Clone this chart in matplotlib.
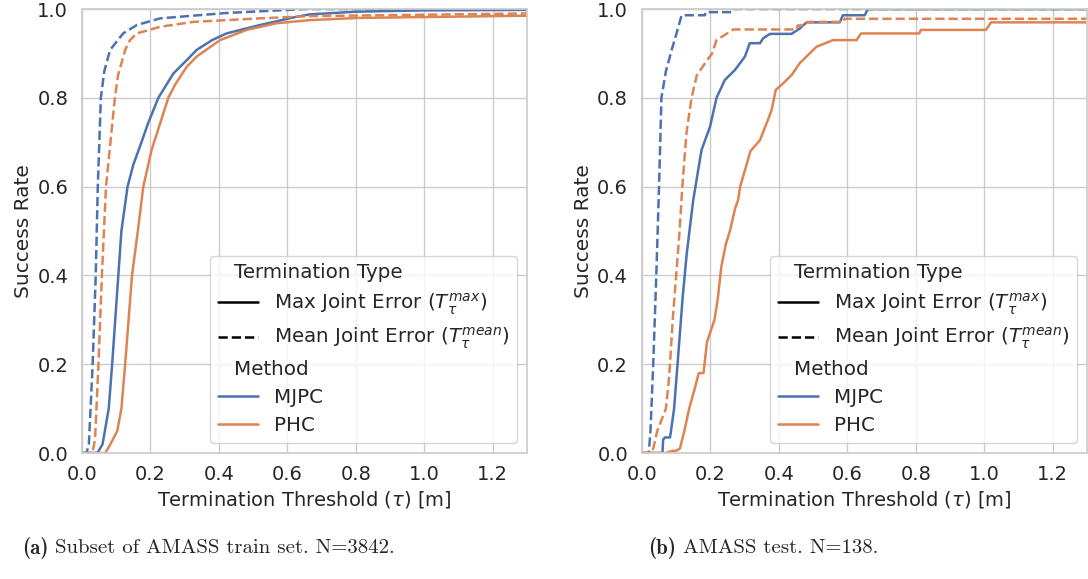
import numpy as np
import matplotlib
matplotlib.use("Agg")
import matplotlib.pyplot as plt
import seaborn as sns
from matplotlib.lines import Line2D

# --- data (threshold [m], success rate) ---
# (a) AMASS train subset, N=3842
a_mjpc_max_x = [0.0, 0.045, 0.06, 0.078, 0.088, 0.106, 0.115, 0.133, 0.15, 0.169, 0.194, 0.223, 0.267, 0.306, 0.335, 0.38, 0.422, 0.52, 0.617, 0.665, 0.8, 1.0, 1.3]
a_mjpc_max_y = [0.0, 0.0, 0.02, 0.1, 0.2, 0.4, 0.5, 0.6, 0.65, 0.69, 0.745, 0.8, 0.855, 0.885, 0.908, 0.93, 0.945, 0.964, 0.981, 0.988, 0.994, 0.997, 0.998]
a_mjpc_mean_x = [0.0, 0.013, 0.02, 0.031, 0.04, 0.046, 0.055, 0.065, 0.082, 0.12, 0.16, 0.228, 0.42, 0.65, 1.3]
a_mjpc_mean_y = [0.0, 0.0, 0.02, 0.2, 0.4, 0.6, 0.8, 0.86, 0.908, 0.945, 0.964, 0.979, 0.991, 1.0, 1.0]
a_phc_max_x = [0.0, 0.068, 0.083, 0.103, 0.115, 0.126, 0.146, 0.163, 0.179, 0.203, 0.228, 0.252, 0.272, 0.306, 0.335, 0.403, 0.481, 0.568, 0.665, 0.81, 1.3]
a_phc_max_y = [0.0, 0.0, 0.02, 0.05, 0.1, 0.2, 0.4, 0.5, 0.6, 0.682, 0.742, 0.8, 0.83, 0.87, 0.893, 0.93, 0.953, 0.968, 0.975, 0.98, 0.985]
a_phc_mean_x = [0.0, 0.03, 0.038, 0.048, 0.058, 0.07, 0.096, 0.105, 0.126, 0.14, 0.16, 0.228, 0.325, 0.52, 0.665, 1.3]
a_phc_mean_y = [0.0, 0.0, 0.03, 0.2, 0.4, 0.6, 0.8, 0.85, 0.908, 0.93, 0.945, 0.96, 0.971, 0.979, 0.984, 0.99]

# (b) AMASS test, N=138
b_mjpc_max_x = [0.0, 0.06, 0.062, 0.067, 0.082, 0.085, 0.094, 0.104, 0.119, 0.131, 0.15, 0.174, 0.199, 0.218, 0.242, 0.272, 0.301, 0.315, 0.345, 0.354, 0.374, 0.437, 0.461, 0.481, 0.578, 0.587, 0.651, 0.66, 1.3]
b_mjpc_max_y = [0.0, 0.0, 0.03, 0.035, 0.035, 0.05, 0.1, 0.2, 0.35, 0.45, 0.57, 0.682, 0.735, 0.8, 0.84, 0.863, 0.893, 0.923, 0.923, 0.934, 0.944, 0.944, 0.956, 0.97, 0.97, 0.986, 0.986, 1.0, 1.0]
b_mjpc_mean_x = [0.0, 0.02, 0.025, 0.033, 0.042, 0.05, 0.057, 0.07, 0.087, 0.101, 0.116, 0.184, 0.186, 0.266, 0.268, 1.3]
b_mjpc_mean_y = [0.0, 0.0, 0.05, 0.2, 0.4, 0.6, 0.8, 0.86, 0.908, 0.945, 0.986, 0.986, 0.993, 0.993, 1.0, 1.0]
b_phc_max_x = [0.0, 0.07, 0.09, 0.1, 0.111, 0.124, 0.138, 0.156, 0.166, 0.18, 0.19, 0.212, 0.222, 0.232, 0.245, 0.257, 0.272, 0.281, 0.287, 0.304, 0.317, 0.345, 0.368, 0.379, 0.391, 0.413, 0.437, 0.461, 0.49, 0.51, 0.558, 0.627, 0.64, 0.666, 0.81, 0.815, 1.005, 1.02, 1.3]
b_phc_max_y = [0.0, 0.0, 0.005, 0.005, 0.01, 0.05, 0.1, 0.15, 0.18, 0.18, 0.25, 0.3, 0.35, 0.42, 0.47, 0.5, 0.55, 0.57, 0.6, 0.645, 0.68, 0.705, 0.75, 0.773, 0.818, 0.833, 0.851, 0.878, 0.9, 0.915, 0.93, 0.93, 0.945, 0.945, 0.945, 0.953, 0.953, 0.97, 0.97]
b_phc_mean_x = [0.0, 0.03, 0.045, 0.06, 0.07, 0.077, 0.082, 0.09, 0.1, 0.11, 0.118, 0.13, 0.145, 0.16, 0.187, 0.205, 0.218, 0.267, 0.452, 0.455, 0.48, 0.483, 0.589, 0.592, 1.3]
b_phc_mean_y = [0.0, 0.0, 0.05, 0.08, 0.1, 0.15, 0.2, 0.3, 0.4, 0.5, 0.6, 0.72, 0.8, 0.85, 0.881, 0.9, 0.93, 0.954, 0.954, 0.963, 0.963, 0.971, 0.971, 0.978, 0.978]

cap_tags = ["(a)", "(b)"]
cap_texts = ["Subset of AMASS train set. N=3842.", "AMASS test. N=138."]

c_mjpc = "#4C72B0"
c_phc = "#DD8452"

sns.set_style("whitegrid")
plt.rcParams['font.family'] = ['DejaVu Sans']
plt.rcParams['axes.edgecolor'] = '.8'
plt.rcParams['axes.linewidth'] = 1.25
plt.rcParams['grid.linewidth'] = 1.0

fig = plt.figure(figsize=(10.88, 5.79), dpi=100)
ax1 = fig.add_axes([0.0754, 0.2176, 0.409, 0.7668])
ax2 = fig.add_axes([0.590, 0.2176, 0.409, 0.7668])

panels = [
    (ax1, a_mjpc_max_x, a_mjpc_max_y, a_mjpc_mean_x, a_mjpc_mean_y,
     a_phc_max_x, a_phc_max_y, a_phc_mean_x, a_phc_mean_y),
    (ax2, b_mjpc_max_x, b_mjpc_max_y, b_mjpc_mean_x, b_mjpc_mean_y,
     b_phc_max_x, b_phc_max_y, b_phc_mean_x, b_phc_mean_y),
]

lw = 1.8
for ax, mx, my, mmx, mmy, px, py, pmx, pmy in panels:
    ax.plot(mx, my, color=c_mjpc, lw=lw)
    ax.plot(mmx, mmy, color=c_mjpc, lw=lw, ls="--")
    ax.plot(px, py, color=c_phc, lw=lw)
    ax.plot(pmx, pmy, color=c_phc, lw=lw, ls="--")
    ax.set_xlim(0, 1.3)
    ax.set_ylim(0, 1.0)
    ax.set_xticks(np.arange(0, 1.21, 0.2))
    ax.set_yticks(np.arange(0, 1.01, 0.2))
    ax.tick_params(labelsize=14, colors='.15', length=0)
    ax.tick_params(axis='x', pad=8.5)
    ax.tick_params(axis='y', pad=10)
    ax.set_xlabel(r"Termination Threshold ($\tau$) [m]", fontsize=14, color='.15')
    ax.set_ylabel("Success Rate", fontsize=14.5, color='.15', labelpad=3)

    handles = [
        Line2D([], [], visible=False),
        Line2D([], [], color="black", lw=lw),
        Line2D([], [], color="black", lw=lw, ls="--"),
        Line2D([], [], visible=False),
        Line2D([], [], color=c_mjpc, lw=lw),
        Line2D([], [], color=c_phc, lw=lw),
    ]
    labels = ["Termination Type",
              r"Max Joint Error ($T_\tau^{max}$)",
              r"Mean Joint Error ($T_\tau^{mean}$)",
              "Method", "MJPC", "PHC"]
    leg = ax.legend(handles, labels, loc="lower right", fontsize=14.3,
                    labelspacing=0.45, framealpha=0.8, edgecolor='.8')
    # seaborn-like subtitles: remove handle space for header rows
    for box in leg._legend_handle_box.get_children()[0].get_children():
        area, text_area = box.get_children()
        if not all(a.get_visible() for a in area.get_children()):
            area.set_width(0)

# captions: bold tag + roman text in Computer Modern
renderer = fig.canvas.get_renderer()
for x0, tag, txt in zip([22 / 1088, 648 / 1088], cap_tags, cap_texts):
    t = fig.text(x0, 0.053, tag, fontsize=15, family='cmb10', ha='left', va='center')
    bb = t.get_window_extent(renderer)
    fig.text((bb.x1 + 7) / fig.bbox.width, 0.053, txt, fontsize=15,
             family='cmr10', ha='left', va='center')

plt.savefig("out.png", dpi=100)
plt.close()
